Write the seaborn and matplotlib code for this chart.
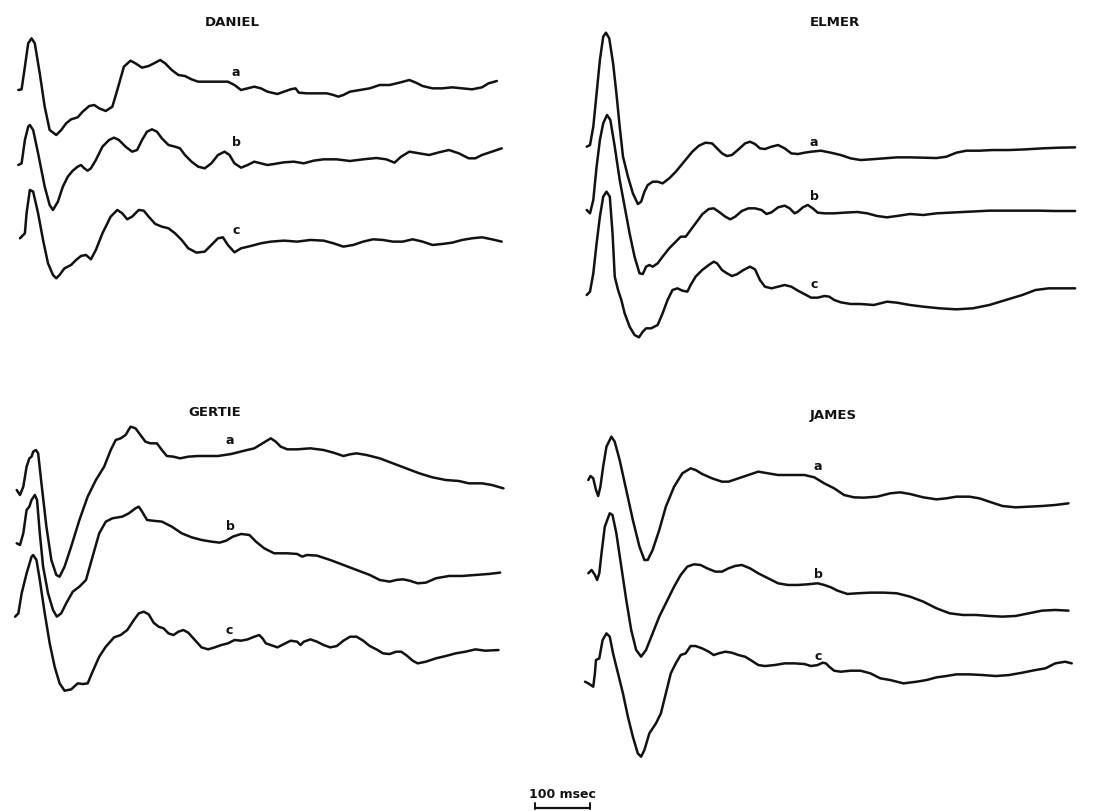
import numpy as np
import pandas as pd
import matplotlib
matplotlib.use('Agg')
import matplotlib.pyplot as plt
import seaborn as sns

# averaged responses: (msec after onset, amplitude in arbitrary units)
daniel_a = [(0, 0), (6, 0.2), (12, 7.0), (18, 14.0), (24, 15.5), (30, 14.0), (39, 5.0), (48, -5.0),
            (57, -12.0), (69, -13.5), (78, -12.0), (87, -10.0), (96, -8.8), (108, -8.2), (117, -6.5),
            (129, -4.8), (138, -4.5), (147, -5.5), (159, -6.3), (171, -5.0), (180, 0), (192, 7.0),
            (204, 8.8), (213, 8.0), (225, 6.7), (237, 7.2), (249, 8.2), (258, 9.0), (267, 8.0),
            (279, 6.0), (291, 4.5), (303, 4.2), (315, 3.2), (327, 2.5), (345, 2.5), (363, 2.5),
            (381, 2.5), (393, 1.5), (405, 0), (417, 0.5), (429, 1.0), (441, 0.5), (453, -0.5),
            (471, -1.2), (483, -0.5), (495, 0.2), (504, 0.5), (510, -0.8), (525, -1.0), (543, -1.0),
            (561, -1.0), (573, -1.5), (582, -2.0), (591, -1.5), (603, -0.5), (621, 0), (639, 0.5),
            (657, 1.5), (675, 1.5), (693, 2.2), (711, 3.0), (723, 2.2), (735, 1.2), (753, 0.5),
            (771, 0.5), (789, 0.8), (807, 0.5), (825, 0.2), (843, 0.8), (855, 2.0), (870, 2.7)]
daniel_b = [(0, 0), (6, 0.5), (12, 7.5), (18, 11.5), (21, 12.0), (27, 10.5), (36, 3.5), (48, -6.5),
            (57, -12.0), (63, -13.5), (72, -11.0), (81, -6.5), (90, -3.5), (99, -1.7), (108, -0.5),
            (114, 0), (120, -1.0), (126, -1.7), (132, -1.0), (141, 1.5), (153, 5.5), (165, 7.5),
            (174, 8.2), (183, 7.5), (195, 5.5), (207, 4.0), (216, 4.5), (225, 7.5), (234, 10.0),
            (243, 10.7), (252, 10.0), (261, 8.0), (273, 6.0), (285, 5.5), (294, 5.0), (303, 3.0),
            (315, 1.0), (327, -0.5), (339, -1.0), (351, 0.5), (363, 3.0), (375, 4.0), (384, 3.0),
            (393, 0.5), (405, -0.8), (417, 0), (429, 1.0), (441, 0.5), (453, 0), (465, 0.3),
            (483, 0.8), (501, 1.0), (519, 0.5), (537, 1.3), (555, 1.7), (579, 1.7), (603, 1.2),
            (627, 1.7), (651, 2.1), (669, 1.7), (684, 0.7), (696, 2.5), (711, 4.0), (729, 3.5),
            (747, 3.0), (765, 3.8), (783, 4.5), (801, 3.5), (819, 2.0), (831, 2.0), (843, 3.0),
            (861, 4.0), (879, 5.0)]
daniel_c = [(3, 0), (12, 1.5), (15, 7.5), (21, 14.5), (27, 14.0), (36, 7.5), (45, -0.5), (54, -7.5),
            (63, -11.0), (69, -12.0), (75, -11.0), (84, -9.0), (96, -8.0), (105, -6.5), (114, -5.3),
            (123, -5.0), (132, -6.3), (141, -3.5), (153, 1.5), (168, 6.5), (180, 8.5), (189, 7.5),
            (198, 5.7), (207, 6.5), (219, 8.5), (228, 8.3), (237, 6.5), (249, 4.3), (261, 3.5),
            (273, 3.0), (285, 1.5), (297, -0.5), (309, -3.0), (324, -4.3), (339, -4.0), (351, -2.0),
            (363, 0), (372, 0.3), (381, -2.0), (393, -4.2), (405, -3.0), (423, -2.3), (441, -1.5),
            (459, -1.0), (483, -0.7), (507, -1.0), (531, -0.5), (555, -0.7), (573, -1.5), (591, -2.5),
            (609, -2.0), (627, -1.0), (645, -0.3), (663, -0.5), (681, -1.0), (699, -1.0), (717, -0.3),
            (735, -1.0), (753, -2.0), (771, -1.7), (789, -1.3), (807, -0.5), (825, 0), (843, 0.3),
            (861, -0.3), (879, -1.0)]

elmer_a = [(0, 0), (6, 0.5), (12, 6.0), (18, 16.0), (24, 26.0), (30, 33.0), (35, 34.2), (41, 32.5),
           (48, 25.0), (54, 16.0), (60, 6.0), (66, -3.0), (75, -9.0), (84, -14.0), (93, -17.2),
           (99, -16.5), (105, -13.5), (111, -11.5), (120, -10.5), (129, -10.5), (138, -11.0),
           (150, -9.5), (162, -7.5), (177, -4.5), (192, -1.5), (204, 0.3), (216, 1.2), (228, 1.0),
           (237, -0.5), (246, -2.0), (255, -2.8), (264, -2.5), (276, -0.8), (288, 1.0), (297, 1.5),
           (306, 0.8), (315, -0.5), (324, -0.7), (336, 0), (348, 0.5), (360, -0.5), (372, -2.0),
           (384, -2.2), (396, -1.8), (408, -1.5), (426, -1.2), (444, -1.8), (462, -2.5), (480, -3.5),
           (498, -4.0), (516, -3.8), (540, -3.5), (564, -3.2), (588, -3.2), (612, -3.3), (636, -3.4),
           (654, -3.0), (672, -1.8), (690, -1.2), (714, -1.2), (738, -1.0), (768, -1.0), (798, -0.8),
           (828, -0.5), (858, -0.3), (888, -0.2)]
elmer_b = [(0, 0), (6, -1.0), (12, 3.0), (18, 13.0), (24, 21.0), (30, 26.0), (37, 28.5), (43, 27.0),
           (51, 19.0), (60, 9.0), (69, 1.0), (78, -7.0), (87, -14.0), (96, -19.0), (102, -19.2),
           (108, -17.0), (114, -16.5), (120, -17.0), (129, -16.0), (138, -14.0), (150, -11.5),
           (162, -9.5), (171, -8.0), (180, -8.0), (189, -6.0), (198, -4.0), (210, -1.3), (222, 0.3),
           (231, 0.5), (240, -0.5), (252, -2.0), (261, -2.8), (270, -2.0), (282, -0.3), (294, 0.5),
           (306, 0.5), (318, 0), (327, -1.2), (336, -0.7), (348, 0.8), (360, 1.3), (369, 0.5),
           (378, -1.0), (384, -0.5), (393, 0.8), (402, 1.5), (411, 0.5), (420, -0.8), (432, -1.0),
           (450, -1.0), (468, -0.8), (492, -0.6), (510, -1.0), (528, -1.8), (546, -2.2), (564, -1.8),
           (588, -1.2), (612, -1.5), (636, -1.0), (660, -0.8), (684, -0.6), (708, -0.4), (732, -0.2),
           (762, -0.2), (792, -0.2), (822, -0.2), (852, -0.3), (888, -0.3)]
elmer_c = [(0, 0), (6, 1.0), (12, 6.5), (18, 15.5), (24, 23.5), (30, 29.5), (36, 31.0), (42, 29.5),
           (47, 18.5), (51, 5.5), (57, 1.5), (63, -1.5), (69, -5.5), (78, -9.5), (87, -12.0),
           (95, -12.7), (102, -11.0), (108, -10.0), (117, -10.0), (129, -9.0), (138, -5.5),
           (147, -1.5), (156, 1.5), (165, 2.0), (174, 1.3), (183, 1.0), (189, 3.0), (198, 5.5),
           (210, 7.5), (222, 9.0), (231, 10.0), (237, 9.5), (246, 7.5), (255, 6.5), (264, 5.7),
           (273, 6.2), (285, 7.5), (297, 8.5), (306, 7.7), (315, 4.5), (324, 2.5), (336, 2.0),
           (348, 2.5), (360, 3.0), (372, 2.5), (384, 1.3), (399, 0), (408, -0.8), (420, -0.8),
           (432, -0.3), (441, -0.5), (450, -1.5), (462, -2.2), (480, -2.7), (498, -2.7), (522, -3.0),
           (546, -2.0), (564, -2.3), (588, -3.0), (612, -3.5), (642, -4.0), (672, -4.3), (702, -4.0),
           (732, -3.0), (762, -1.5), (792, 0), (816, 1.5), (840, 2.0), (864, 2.0), (888, 2.0)]

gertie_a = [(0, 0), (6, -1.5), (12, 1.0), (18, 7.0), (23, 9.5), (27, 10.0), (30, 11.5), (35, 12.0),
            (39, 11.0), (45, 2.0), (54, -11.0), (63, -21.0), (72, -25.5), (78, -26.0), (87, -23.0),
            (99, -17.0), (114, -9.0), (129, -2.0), (144, 3.0), (159, 7.0), (171, 12.0), (180, 15.0),
            (189, 15.5), (198, 16.5), (207, 19.0), (216, 18.5), (225, 16.5), (234, 14.5), (243, 14.0),
            (255, 14.0), (264, 12.0), (273, 10.2), (285, 10.0), (297, 9.5), (312, 10.0), (330, 10.2),
            (348, 10.2), (366, 10.2), (390, 10.8), (414, 11.8), (432, 12.5), (447, 14.0), (462, 15.5),
            (471, 14.5), (480, 13.0), (492, 12.2), (510, 12.2), (534, 12.5), (558, 12.0), (576, 11.2),
            (594, 10.2), (606, 10.7), (618, 11.0), (636, 10.5), (660, 9.5), (684, 8.0), (708, 6.5),
            (732, 5.0), (756, 3.8), (780, 3.0), (804, 2.7), (822, 2.0), (846, 2.0), (864, 1.5),
            (885, 0.5)]
gertie_b = [(0, 0), (6, -0.5), (12, 3.0), (18, 10.0), (23, 11.0), (27, 13.0), (33, 14.5), (37, 13.0),
            (42, 3.0), (48, -7.0), (57, -15.0), (66, -20.0), (73, -22.0), (81, -21.0), (90, -18.0),
            (102, -14.5), (114, -13.0), (126, -11.0), (138, -4.0), (150, 3.0), (162, 6.5), (174, 7.5),
            (192, 8.0), (204, 9.0), (216, 10.5), (222, 11.0), (228, 9.5), (237, 7.0), (246, 6.8),
            (264, 6.5), (282, 5.0), (300, 3.0), (318, 1.8), (336, 1.0), (354, 0.5), (369, 0.2),
            (381, 0.8), (393, 2.0), (408, 2.8), (423, 2.5), (435, 0.5), (450, -1.5), (468, -3.0),
            (492, -3.0), (510, -3.2), (519, -4.0), (528, -3.5), (546, -3.7), (570, -5.0), (594, -6.5),
            (618, -8.0), (642, -9.5), (660, -11.0), (678, -11.5), (690, -11.0), (702, -10.8),
            (714, -11.2), (729, -12.0), (744, -11.8), (762, -10.5), (786, -9.8), (810, -9.8),
            (834, -9.5), (858, -9.2), (879, -8.8)]
gertie_c = [(-3, 0), (3, 1.0), (9, 7.0), (18, 13.0), (27, 18.0), (30, 18.5), (36, 17.0), (42, 11.0),
            (51, 1.0), (60, -8.0), (69, -15.0), (78, -20.0), (87, -22.2), (99, -21.8), (111, -20.0),
            (120, -20.2), (129, -20.0), (138, -16.5), (150, -12.0), (162, -9.0), (177, -6.2),
            (189, -5.5), (201, -4.0), (213, -1.0), (222, 1.0), (231, 1.5), (240, 0.7), (249, -1.8),
            (258, -3.0), (267, -3.5), (276, -5.0), (285, -5.5), (294, -4.5), (303, -4.0), (312, -4.8),
            (324, -7.0), (336, -9.2), (348, -9.8), (360, -9.2), (372, -8.5), (384, -8.0), (396, -7.0),
            (408, -7.2), (420, -6.8), (432, -6.0), (441, -5.5), (447, -6.5), (453, -8.0), (462, -8.5),
            (474, -9.2), (486, -8.2), (498, -7.2), (510, -7.5), (516, -8.5), (522, -7.5), (534, -6.8),
            (546, -7.5), (558, -8.5), (570, -9.2), (582, -8.8), (594, -7.2), (606, -6.0), (618, -6.0),
            (630, -7.2), (642, -8.8), (654, -9.8), (666, -11.0), (678, -11.2), (690, -10.5),
            (699, -10.5), (708, -11.5), (720, -13.2), (729, -14.0), (744, -13.5), (762, -12.5),
            (780, -11.8), (798, -11.0), (816, -10.5), (834, -9.8), (852, -10.2), (876, -10.0)]

james_a = [(0, 0), (4, 1.2), (9, 0.5), (14, -3.0), (18, -4.8), (22, -2.0), (27, 4.0), (33, 10.0),
           (42, 13.0), (48, 11.5), (57, 6.0), (69, -3.0), (81, -12.0), (93, -20.0), (102, -24.0),
           (108, -24.0), (117, -21.0), (129, -15.0), (141, -8.0), (156, -2.0), (171, 2.0), (186, 3.5),
           (195, 3.0), (207, 1.8), (225, 0.5), (243, -0.5), (255, -0.5), (273, 0.5), (291, 1.5),
           (309, 2.5), (327, 2.0), (345, 1.5), (369, 1.5), (393, 1.5), (411, 0.8), (429, -1.0),
           (447, -2.5), (465, -4.5), (483, -5.2), (501, -5.3), (525, -5.0), (549, -4.0), (567, -3.7),
           (585, -4.2), (609, -5.2), (633, -5.8), (651, -5.5), (669, -5.0), (693, -5.0), (711, -5.5),
           (729, -6.5), (753, -7.8), (777, -8.2), (801, -8.0), (825, -7.8), (849, -7.5), (873, -7.0)]
james_b = [(0, 0), (6, 1.0), (12, -0.5), (16, -2.0), (20, 0), (24, 6.0), (30, 14.0), (39, 18.0),
           (44, 17.5), (51, 12.0), (60, 2.0), (69, -8.0), (78, -17.0), (87, -23.0), (96, -25.0),
           (105, -23.0), (117, -18.0), (129, -13.0), (144, -8.0), (156, -4.0), (168, -0.5), (180, 2.0),
           (192, 2.7), (204, 2.5), (216, 1.5), (231, 0.5), (243, 0.5), (255, 1.5), (267, 2.2),
           (279, 2.5), (294, 1.5), (309, 0), (327, -1.5), (345, -3.0), (363, -3.5), (381, -3.5),
           (399, -3.3), (417, -3.0), (429, -3.5), (441, -4.2), (453, -5.2), (471, -6.2), (489, -6.0),
           (513, -5.8), (537, -5.8), (561, -6.0), (585, -7.0), (609, -8.5), (633, -10.5), (657, -12.0),
           (681, -12.5), (705, -12.5), (729, -12.8), (753, -13.0), (777, -12.8), (801, -12.0),
           (825, -11.2), (849, -11.0), (873, -11.2)]
james_c = [(-6, 0), (0, -0.5), (9, -1.5), (12, 2.5), (14, 6.5), (20, 7.0), (26, 12.5), (33, 14.5),
           (39, 13.5), (45, 8.5), (54, 2.5), (63, -3.5), (72, -10.5), (81, -16.5), (90, -21.5),
           (96, -22.5), (102, -20.5), (111, -15.5), (123, -12.5), (132, -9.5), (141, -3.5), (150, 2.5),
           (159, 5.5), (168, 8.0), (177, 8.5), (186, 10.7), (195, 10.7), (207, 10.0), (219, 9.0),
           (228, 8.0), (237, 8.5), (249, 9.0), (261, 8.7), (273, 8.0), (285, 7.5), (297, 6.3),
           (309, 5.0), (321, 4.7), (339, 5.0), (357, 5.5), (375, 5.5), (393, 5.3), (405, 4.7),
           (417, 5.0), (426, 5.7), (432, 5.5), (438, 4.5), (447, 3.3), (459, 3.0), (477, 3.3),
           (495, 3.3), (513, 2.5), (531, 1.0), (549, 0.5), (573, -0.5), (597, 0), (615, 0.5),
           (633, 1.3), (651, 1.7), (669, 2.2), (693, 2.2), (717, 2.0), (741, 1.7), (765, 2.0),
           (789, 2.7), (813, 3.5), (831, 4.0), (849, 5.5), (867, 6.0), (879, 5.5)]

subjects = ['DANIEL', 'ELMER', 'GERTIE', 'JAMES']
conditions = ['a', 'b', 'c']
traces = {
    'DANIEL': [daniel_a, daniel_b, daniel_c],
    'ELMER': [elmer_a, elmer_b, elmer_c],
    'GERTIE': [gertie_a, gertie_b, gertie_c],
    'JAMES': [james_a, james_b, james_c],
}
scale_ms = 100

# layout, in pixels of the 1094 x 811 figure
W, H = 1094, 811
PX_PER_MS = 0.55
PX_PER_UNIT = 10 / 3
# left, top, width, height, x of onset
panels = {
    'DANIEL': (0, 0, 547, 400, 18.3),
    'ELMER': (547, 0, 547, 400, 586.7),
    'GERTIE': (0, 400, 547, 411, 16.7),
    'JAMES': (547, 400, 547, 411, 588.3),
}
baselines = {
    'DANIEL': [90, 165, 238.3],
    'ELMER': [146.7, 210, 295],
    'GERTIE': [490, 543.3, 616.7],
    'JAMES': [480, 573.3, 681.7],
}
title_xy = {'DANIEL': (232, 22), 'ELMER': (835, 23), 'GERTIE': (215, 413), 'JAMES': (833, 415)}
label_xy = {
    'DANIEL': [(236, 73), (236, 142), (236, 230)],
    'ELMER': [(814, 142), (814, 196), (814, 284)],
    'GERTIE': [(230, 441), (230, 527), (229, 630)],
    'JAMES': [(818, 467), (818, 575), (818, 657)],
}

sns.set_style('white')
plt.rcParams['font.family'] = ['DejaVu Sans']
ink = '#121212'

rows = []
for s in subjects:
    left, top, w, h, x0 = panels[s]
    for cond, tr, yb in zip(conditions, traces[s], baselines[s]):
        off = (top + h - yb) / PX_PER_UNIT
        for t, v in tr:
            rows.append((s, cond, t, v + off))
df = pd.DataFrame(rows, columns=['subject', 'cond', 'ms', 'y'])

fig = plt.figure(figsize=(W / 100, H / 100), dpi=100)

def fx(px):
    return px / W

def fy(py):
    return 1 - py / H

for s in subjects:
    left, top, w, h, x0 = panels[s]
    ax = fig.add_axes([left / W, 1 - (top + h) / H, w / W, h / H])
    sub = df[df['subject'] == s]
    sns.lineplot(data=sub, x='ms', y='y', units='cond', estimator=None, sort=False,
                 color=ink, linewidth=1.8, legend=False, ax=ax,
                 solid_joinstyle='round', solid_capstyle='round')
    ax.set_xlim((left - x0) / PX_PER_MS, (left + w - x0) / PX_PER_MS)
    ax.set_ylim(0, h / PX_PER_UNIT)
    ax.axis('off')
    tx, ty = title_xy[s]
    fig.text(fx(tx), fy(ty), s, ha='center', va='center', fontsize=9.5,
             fontweight='bold', color=ink)
    for cond, (lx, ly) in zip(conditions, label_xy[s]):
        fig.text(fx(lx), fy(ly), cond, ha='center', va='center', fontsize=9,
                 fontweight='bold', color=ink)

# 100 msec calibration bar
ax_bar = fig.add_axes([0, 0, 1, 1])
bar_start = 535 / PX_PER_MS
bar = pd.DataFrame({'ms': [bar_start, bar_start + scale_ms], 'y': [808, 808]})
sns.lineplot(data=bar, x='ms', y='y', color=ink, linewidth=1.6, ax=ax_bar)
for end in [bar_start, bar_start + scale_ms]:
    ax_bar.plot([end, end], [803, 809], color=ink, linewidth=1.4)
ax_bar.set_xlim(0, W / PX_PER_MS)
ax_bar.set_ylim(H, 0)
ax_bar.axis('off')
fig.text(fx(562), fy(795), '100 msec', ha='center', va='center', fontsize=9,
         fontweight='bold', color=ink)

plt.savefig('out.png', dpi=100)
